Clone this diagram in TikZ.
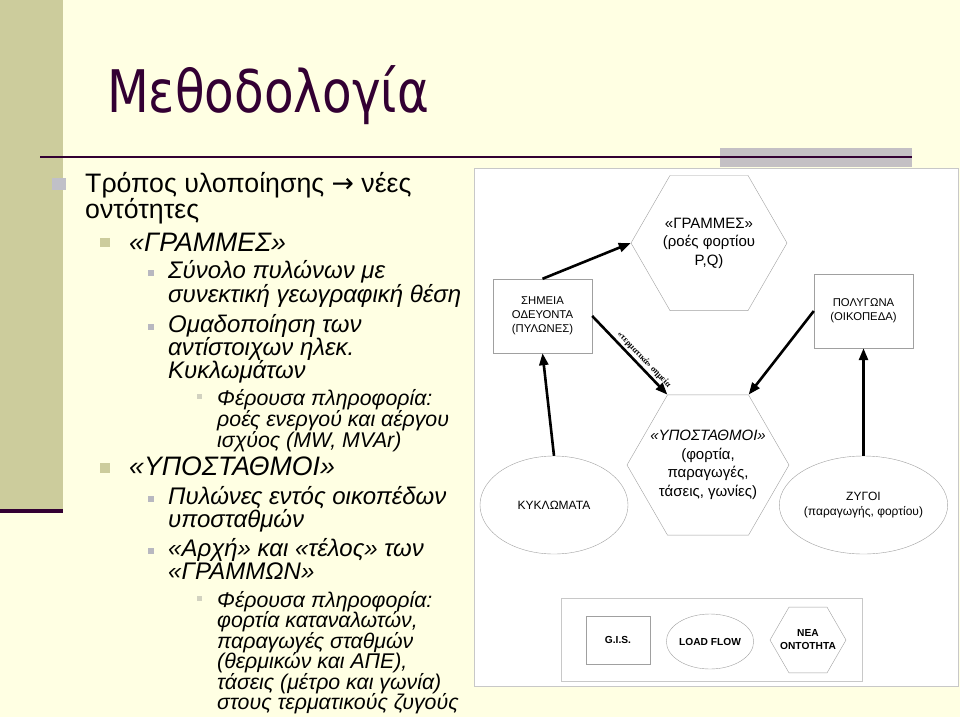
\documentclass[tikz,border=0pt]{standalone}
\usepackage{fontspec}
\usepackage{graphicx}
\setmainfont{Liberation Sans}
\newfontfamily\titlefont{DejaVu Sans}
\newfontfamily\labelfont{Liberation Serif}
\usetikzlibrary{shapes.geometric,arrows.meta}

\definecolor{slidebg}{HTML}{FFFFE3}
\definecolor{bandolive}{HTML}{CCCC9C}
\definecolor{darkplum}{HTML}{330033}
\definecolor{greyblock}{HTML}{C4C0C4}
\definecolor{framegrey}{HTML}{C8C8C8}
\definecolor{shapegrey}{HTML}{A0A0A0}
\definecolor{bulone}{HTML}{C0C0C8}
\definecolor{bulthree}{HTML}{B8B8C0}
\definecolor{bulfour}{HTML}{D2D2C0}

\tikzset{
  lone/.style={anchor=base west, inner sep=0pt, font=\fontsize{26.7}{28}\selectfont},
  ltwo/.style={anchor=base west, inner sep=0pt, font=\fontsize{26.7}{28}\selectfont\itshape},
  lthree/.style={anchor=base west, inner sep=0pt, font=\fontsize{24}{26}\selectfont\itshape},
  lfour/.style={anchor=base west, inner sep=0pt, font=\fontsize{21.3}{23}\selectfont\itshape},
  hexa/.style={draw=shapegrey, regular polygon, regular polygon sides=6, inner sep=0pt},
  box/.style={draw=shapegrey, rectangle, inner sep=0pt, align=center},
  oval/.style={draw=shapegrey, ellipse, inner sep=0pt, align=center},
  inner/.style={inner sep=0pt, align=center},
  small/.style={font=\fontsize{11.3}{14}\selectfont},
  mid/.style={font=\fontsize{12}{15}\selectfont},
  big/.style={font=\fontsize{15}{18.5}\selectfont},
  tiny/.style={font=\bfseries\fontsize{10.2}{13}\selectfont},
  flow/.style={line width=2.6pt, -{Triangle[length=12pt,width=9pt]}}
}

\begin{document}
\begin{tikzpicture}[x=1pt,y=-1pt]
% slide background
\fill[slidebg] (0,0) rectangle (960,717);
\fill[bandolive] (0,0) rectangle (63,509);
\fill[darkplum] (0,509) rectangle (63,513);
\fill[greyblock] (720,148) rectangle (912,167);
\fill[darkplum] (40,155.5) rectangle (912,157.5);

\node[anchor=base west, inner sep=0pt, text=darkplum,
  font=\titlefont\fontsize{58.7}{60}\selectfont] (title) at (107,112)
  {\scalebox{0.825}[1]{Μεθοδολογία}};

% bullets
\fill[bulone] (52,178) rectangle (66,190);
\fill[bandolive] (100,238) rectangle (110,247);
\fill[bandolive] (100,463) rectangle (110,473);
\foreach \y in {270,324,496,548}
  \fill[bulthree] (148,\y) rectangle (154,\y+6);
\foreach \y in {394,596}
  \fill[bulfour] (197,\y) rectangle (202,\y+5);

% text lines
\node[lone] (la) at (85,192) {Τρόπος υλοποίησης {\titlefont →} νέες};
\node[lone] (lb) at (85,218.5) {οντότητες};
\node[ltwo] (gra) at (129,251) {«ΓΡΑΜΜΕΣ»};
\node[ltwo] (ypo) at (129,475) {«ΥΠΟΣΤΑΘΜΟΙ»};
\foreach \n/\y/\t in {a/278/{Σύνολο πυλώνων με}, b/302/{συνεκτική γεωγραφική θέση},
    c/332/{Ομαδοποίηση των}, d/355/{αντίστοιχων ηλεκ.}, e/378/{Κυκλωμάτων},
    f/504/{Πυλώνες εντός οικοπέδων}, g/527/{υποσταθμών},
    h/556/{«Αρχή» και «τέλος» των}, i/579/{«ΓΡΑΜΜΩΝ»}}
  \node[lthree] (t\n) at (168,\y) {\t};
\foreach \n/\y/\t in {a/405/{Φέρουσα πληροφορία:}, b/426/{ροές ενεργού και αέργου},
    c/447/{ισχύος (MW, MVAr)},
    d/607/{Φέρουσα πληροφορία:}, e/627.5/{φορτία καταναλωτών,},
    f/648/{παραγωγές σταθμών}, g/668.5/{(θερμικών και ΑΠΕ),},
    h/689/{τάσεις (μέτρο και γωνία)}, i/709.5/{στους τερματικούς ζυγούς}}
  \node[lfour] (f\n) at (217,\y) {\t};

% diagram
\filldraw[fill=white, draw=framegrey] (474,168) rectangle (958,686);
\node[hexa, minimum size=156pt] (grammes) at (709,243) {};
\node[inner, big] (grammestext) at (grammes.center)
  {«ΓΡΑΜΜΕΣ»\\(ροές φορτίου\\P,Q)};
\node[box, small, minimum width=99pt, minimum height=74pt] (pylones) at (542.5,316)
  {ΣΗΜΕΙΑ\\ΟΔΕΥΟΝΤΑ\\(ΠΥΛΩΝΕΣ)};
\node[box, small, minimum width=99pt, minimum height=74pt] (oikopeda) at (863.5,311)
  {ΠΟΛΥΓΩΝΑ\\(ΟΙΚΟΠΕΔΑ)};
\node[hexa, minimum size=162pt] (ypostathmoi) at (708,465) {};
\node[inner, big] (ypostathmoitext) at (ypostathmoi.center)
  {\textit{«ΥΠΟΣΤΑΘΜΟΙ»}\\(φορτία,\\παραγωγές,\\τάσεις, γωνίες)};
\node[oval, mid, minimum width=148pt, minimum height=98pt] (kyklomata) at (554,505)
  {ΚΥΚΛΩΜΑΤΑ};
\node[oval, mid, minimum width=147pt, minimum height=98pt] (zygoi) at (863.5,505)
  {ΖΥΓΟΙ\\(παραγωγής, φορτίου)};

\draw[flow] (pylones.north) -- (grammes.180);
\draw[flow] (pylones.east) -- node[sloped, above, pos=0.62, inner sep=2pt,
  font=\labelfont\bfseries\fontsize{8.5}{9}\selectfont] (termlabel) {«τερματικά» σημεία}
  (ypostathmoi.120);
\draw[flow] (oikopeda.west) -- (ypostathmoi.60);
\draw[flow] (kyklomata.north) -- (pylones.south);
\draw[flow] (zygoi.north) -- (oikopeda.south);

% legend
\draw[framegrey] (561,598) rectangle (862,681);
\node[box, tiny, minimum width=64pt, minimum height=48pt] (gis) at (618,640) {G.I.S.};
\node[oval, tiny, minimum width=82pt, minimum height=55pt] (loadflow) at (710,641.5) {LOAD FLOW};
\node[hexa, minimum size=76pt] (nea) at (808,640) {};
\node[inner, tiny] (neatext) at (nea.center) {ΝΕΑ\\ΟΝΤΟΤΗΤΑ};
\end{tikzpicture}
\end{document}
